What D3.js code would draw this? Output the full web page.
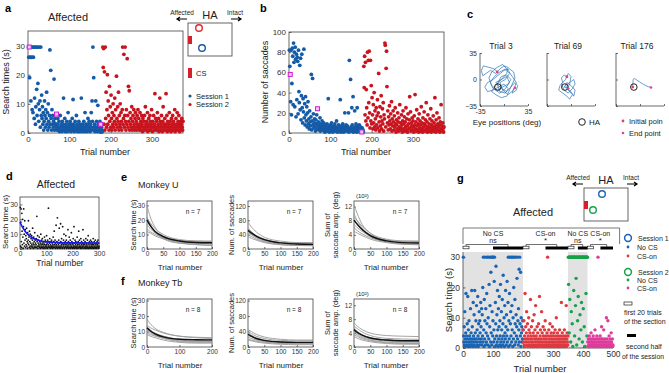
<!DOCTYPE html>
<html lang="en">
<head>
<meta charset="utf-8">
<title>Search time figure</title>
<script src="https://d3js.org/d3.v7.min.js"></script>
<style>
  body { margin: 0; background: #fff; }
  svg { display: block; font-family: "Liberation Sans", Arial, sans-serif; }
</style>
</head>
<body>
<svg id="fig" width="669" height="373"></svg>
<script>
// ---------- data ----------
// panel a : search time per trial, session 1 = trials 1-180, session 2 = trials 181-375
const aSession1Times = [
  29.5,26,29.5,19,26,29.5,11,29.5,26,8, 29.5,7,26,29.5,5,12,29.5,3,9,29.5,
  15,6,29.5,17,10,4,29.5,8,11,2, 29.5,6,13,5,9,3,7,1,4,11,
  6,2,8,5,14,3,7,1,10,4, 2,6,28.5,3,21.5,5,1,8,3,6,
  2,4,18.5,1,5,3,3,2,6.5,1, 3,5,2,1,4,0.5,2,6,1,3,
  2,0.5,4,1,3,12,2,1,5,0.5, 2,3,1,4,0.5,2,7,1,3,2,
  1,4,2,0.5,3,1,5,2,11.5,1, 3,0.5,2,4,1,2,6,1,3,0.5,
  2,1,4,2,0.5,3,1,2,12,1, 0.5,3,2,1,4,2,0.5,7,1,3,
  2,1,0.5,3,5,1,2,4,1,0.5, 3,2,7,1,11,4,29.5,2,19,1,
  3,0.5,2,11,1,4,2,0.5,9.5,3, 1,2,0.5,4,1,3,0.3,2,1,0.5
];
const aSession2Times = [
  29.5,22.5,29,3,21,1,29.5,5,14,2, 8,20,3,11,6,1,16,4,9,2,
  13,5,1,7,3,10,2,6,4,12, 1,8,3,19.5,5,2,9,4,14,1,
  6,3,10,2,7,4,1,8,29.5,3, 5,27,2,6,29.5,4,1,8,3,25.5,
  6,2,16,4,14.5,1,7,3,5,2, 9,1,4,6,2,8,3,1,5,7,
  2,4,1,6,3,8,2,5,1,3, 7,2,4,1,6,3,0.5,5,2,4,
  1,6,2,9,3,1,4,2,7,0.5, 3,5,1,2,6,4,1,3,8,2,
  0.5,4,2,6,1,3,13.5,2,5,1, 4,2,7,1,3,5,0.5,2,12,4,
  1,3,6,2,0.5,4,9,1,3,2, 5,1,3,13.5,2,6,0.5,4,1,3,
  2,7,1,4,2,0.5,5,3,1,6, 2,4,1,3,8,0.5,2,5,1,3,
  7,2,4,1,6,3,0.5,2,4,1, 3,5,2,1,4
];
// panel b : number of saccades per trial
const bSession1Saccades = [
  82,66,58,31,82,18,49,84,76,28, 89,70,80,26,85,73,16,78,33,75,
  71,19,82,41,30,67,23,74,13,37, 78,25,10,34,21,83,15,29,8,36,
  18,12,26,6,20,31,9,14,4,22, 11,7,16,58,3,12,54,8,19,5,
  10,14,6,2,13,9,18,4,24,7, 11,3,8,5,15,2,9,6,4,12,
  3,7,5,10,2,6,1,8,4,3, 6,9,2,5,34,3,7,1,4,8,
  5,2,10,4,6,1,3,7,2,5, 9,3,6,2,12,4,1,5,3,8,
  2,6,4,33,1,3,7,5,2,9, 4,1,6,3,20,5,2,8,4,3,
  7,2,5,20,1,72,4,3,53,6, 2,25,8,4,36,1,5,3,22,6,
  2,9,4,1,25,7,3,5,2,8, 4,1,6,3,2,1,5,2,3,1
];
const bSession2Saccades = [
  66,45,76,18,70,12,43,25,8,80, 15,72,30,81,20,5,72,12,47,9,
  35,18,4,28,10,40,6,22,14,3, 25,8,17,33,5,20,59,11,2,26,
  7,16,37,4,12,24,9,30,2,18, 14,89,87,6,64,81,46,10,22,3,
  16,8,27,12,4,19,9,31,2,14, 7,22,11,3,17,6,25,9,1,13,
  8,4,20,11,2,15,6,28,3,10, 5,18,8,1,12,22,4,9,16,2,
  11,6,25,3,14,7,1,19,9,4, 13,36,5,21,2,10,7,15,3,12,
  6,1,17,8,38,4,11,2,23,7, 3,14,9,1,19,5,12,2,8,26,
  4,10,1,15,6,3,21,9,2,13, 7,30,4,11,1,18,6,3,9,2,
  14,5,24,1,8,12,3,6,17,2, 10,4,35,7,1,13,5,20,3,9,
  6,2,15,8,1,11,4,28,3,7, 2,10,5,1,6
];
const session1Last = 180;
const exampleTrials = [3, 69, 176];

// panel c : eye trajectories (deg)
const trial3Path = [[-10,10],[-14,14],[-22,16],[-30,18],[-33,12],[-31,5],[-26,8],[-20,12],[-12,8],[-6,14],
  [0,18],[6,16],[4,8],[-2,2],[-8,-4],[-14,-10],[-18,-16],[-12,-20],[-4,-24],[4,-22],[8,-14],[12,-6],
  [16,2],[14,10],[8,14],[0,12],[-8,6],[-16,0],[-24,-4],[-28,-10],[-24,-16],[-16,-14],[-8,-10],[0,-6],
  [6,-12],[2,-18],[-6,-16],[-10,-6],[-4,4],[4,6],[10,0],[6,-6],[-2,-10],[-10,-14],[-18,-8],[-22,2],
  [-18,10],[-10,16],[-2,20],[6,12],[12,4],[18,-4],[14,-14],[6,-20],[-2,-14],[-6,-4],[2,0],[8,8],
  [2,14],[-6,10],[-14,4],[-20,-4],[-16,-12],[-6,-18],[2,-12],[8,-4],[4,4],[-4,0],[-12,-4],[-6,-10],
  [4,-16],[10,-10],[16,-4],[20,-8],[18,-14],[12,-18],[14,-12],[16,-11]];
const trial69Path = [[-6,3.6],[-10,6],[-14,2],[-12,-4],[-16,-8],[-18,-14],[-12,-18],[-6,-22],[-2,-26],
  [2,-20],[-4,-14],[-8,-8],[-2,-4],[4,0],[6,-6],[2,-12],[-4,-18],[-10,-14],[-14,-6],[-8,0],[-4,8],
  [0,4],[-2,-6],[-6,-12],[0,-16],[4,-22],[6,-14],[0,-8],[-6,-4],[-10,-10],[-4,-12]];
const trial176Path = [[-10.6,-10],[-10.3,-3],[-9.8,2.5],[-5,-0.5],[0,-3.5],[5,-6.5],[10,-9],[16,-10.5]];
const haPosition = [-9, -10];

// panel d : search time, affected side, and fitted curve
const dTimes = [
  28,2,18,27,5,1,24,12,3,20,8,0.5,15,27,4,10,2,19,6,13,1,9,3,7,14,2,5,0.5,11,4,
  6,19,3,8,1,12,5,2,10,0.5,4,7,2,9,3,1,6,14,2,4,0.5,8,3,5,1,11,2,6,4,1,
  3,7,1,22,5,2,9,0.5,4,6,2,3,8,1,5,2,4,0.5,10,3,1,6,2,4,7,1,3,0.5,5,2,
  4,1,8,3,0.5,6,2,5,1,3,9,2,4,0.5,6,1,3,27.5,2,5,1,4,7,2,0.5,3,5,1,2,6,
  1,4,2,0.5,3,8,1,5,2,12,3,1,6,4,0.5,2,16,3,1,5,2,21,0.5,4,1,3,6,2,14,1,
  4,0.5,2,17,5,1,3,7,2,0.5,4,15,1,3,6,2,10,0.5,4,1,3,5,2,9,1,6,0.5,3,2,4,
  1,13,2,5,0.5,3,8,1,4,2,6,0.5,3,1,11,2,5,1,4,0.5,3,7,2,1,15,4,0.5,2,6,1,
  3,5,2,0.5,4,1,8,2,3,0.5,5,1,12,3,2,6,1,4,0.5,2,7,1,3,5,0.5,2,4,1,13,3,
  2,6,0.5,4,1,3,5,2,0.5,7,1,4,2,3,0.5,6,1,2,9,4,0.5,3,1,5,2,0.5,4,6,1,3,
  2,5,0.5,3,1,4,2,7,0.5,3,1,5,2,4,0.5,6,1,3,2,0.5,4,1,5,3,2,6,0.5,1,4,2
];
const dFitTrials = [0, 10, 20, 30, 50, 75, 100, 150, 200, 300];
const dFitValues = [18, 14.5, 11.8, 9.8, 7.2, 5.6, 4.8, 4.3, 4.1, 4.0];

// panels e, f : fitted learning curves, values at these trials
const curveTrials = [0, 10, 25, 50, 100, 150, 200];
const eSearchCurves = [[30,22,15,9,6,5,5],[21,18,14,10,6.5,5.5,5],[19,16,12,8,5,4,3.5],[17,14,11,8,6,5.5,5.5],
  [14,12,10,7.5,4.5,3,2.5],[12,11,9,7,4,3,2.5],[22,17,12,7,4,3.5,3.5]];
const eSearchMean = [20,16,12,8.5,5.5,4.5,4.3];
const eSaccadeCurves = [[75,62,48,33,22,18,17],[55,48,38,28,18,15,14],[50,42,32,22,14,12,12],[45,40,33,25,18,16,16],
  [40,35,28,20,12,10,9],[35,30,25,18,12,10,10],[60,48,36,25,18,17,17]];
const eSaccadeMean = [52,45,36,26,17,14,13];
const eAmpCurves = [[12.5,10,7,4.5,2.5,2,2],[9,8,6.5,4.5,2.8,2.3,2.2],[8,7,5.5,4,2.5,2,1.8],[7,6,5,3.5,2,1.5,1.3],
  [6,5.2,4.3,3.2,2,1.5,1.4],[5,4.5,3.8,2.8,1.8,1.3,1.2],[10,8,6,4,2.5,2.2,2.2]];
const eAmpMean = [8.2,7,5.5,3.8,2.3,1.8,1.7];
const fSearchCurves = [[18,15,12,9.5,7,6.3,6],[14,12.5,11,9,7,6,5.5],[13,11,9,7,5,4.5,4.5],[11,10,8.5,7,5,4.5,4],
  [10,9,7.5,6,4,3.5,3.5],[9,8,7,5.5,3.5,3,3],[8,7,6,4.5,3,2.5,2.5],[12,10,8,6,4.5,4,4]];
const fSearchMean = [12.5,10.5,8.5,6.5,5,4.7,4.6];
const fSaccadeCurves = [[45,40,33,26,20,18,18],[40,35,28,22,17,16,16],[35,30,24,18,13,12,12],[30,26,21,16,12,11,11],
  [25,22,18,14,10,9,9],[20,18,15,12,9,8,8],[18,16,13,10,7,6,6],[38,30,22,16,12,11,11]];
const fSaccadeMean = [33,28,22,17,13,12,12];
const fAmpCurves = [[7,6,5,4,3.3,3.1,3],[6,5.3,4.3,3.3,2.5,2.3,2.2],[5,4.3,3.5,2.7,2,1.8,1.8],[4.5,3.8,3,2.3,1.7,1.5,1.5],
  [4,3.4,2.7,2,1.4,1.2,1.2],[3.5,3,2.4,1.8,1.2,1,1],[3,2.5,2,1.5,1,0.8,0.8],[5.5,4.5,3.5,2.6,2,1.8,1.8]];
const fAmpMean = [5,4.2,3.4,2.6,2,1.8,1.8];

// panel g : search time per trial in four sections
const gS1NoCS = [
  30,4,2,7,1,12,3,0.5,5,18, 2,4,1,8,3,17,0.5,6,2,9,
  1,4,3,0.5,13,2,5,1,19,3, 7,2,0.5,15,4,1,11,3,19,2,
  5,0.5,9,3,14,1,6,2,17,4, 0.5,8,3,12,1,9,5,2,15,7,
  3,13,1,11,4,20,2,30,6,0.5, 16,3,9,30,1,13,5,2,18,8,
  30,4,1,10,30,3,21,0.5,7,14, 30,2,25,5,30,1,12,30,4,9,
  30,2,6,22,30,3,0.5,15,8,27, 1,4,11,2,19,6,0.5,13,3,7,
  17,1,9,4,21,2,0.5,12,6,3, 16,1,8,24,4,2,10,0.5,14,5,
  3,19,7,1,11,4,22,2,6,15, 30,0.5,9,3,18,30,1,8,12,4,
  30,2,14,6,30,0.5,10,3,20,30, 5,1,16,8,30,2,11,4,7,23,
  30,3,9,1,13,6,26,2,30,8, 4,25,0.5,10,5,7,2,3,9,6
];
const gS1CSon = [
  6,2,9,1,4,0.5,18,3,7,2, 5,12,1,3,8,0.5,4,2,10,6,
  1,3,5,0.5,16,2,4,7,1,3, 0.5,9,2,5,1,4,11,0.5,3,6,
  2,14,1,4,0.5,3,7,2,5,1, 0.5,8,3,2,17,1,4,6,0.5,2,
  3,12,1,5,0.5,2,7,4,1,3, 0.5,6,2,9,1,4,0.5,3,2,5,
  1,30,0.5,4,2,6,1,3,0.5,8, 2,4,1,5,0.5,3,2,7,1,4,
  0.5,2,5,1,3,0.5,6,2,4,1, 10,0.5,3,2,5,1,0.5,4,2,3,
  1,6,0.5,2,4,1,3,15,0.5,2, 5,1,3,0.5,4,2,1,6,0.5,3,
  2,4,1,14,0.5,3,5,2,1,4
];
const gS2NoCS = [
  30,21,30,5,30,16,30,30,2,30, 12,30,30,8,30,0.5,30,30,19,30,
  30,4,30,30,14,30,23,30,1,30, 30,9,30,17,30,30,3,30,30,11,
  30,30,6,30,15,30,30,2,30,30, 13,30,30,7,30,30,0.5,30,30,18, 30,30,4,30,30
];
const gS2CSon = [
  2,0.5,3,1,2,4,0.5,1,3,2, 0.5,5,1,2,3,0.5,1,2,4,1,
  3,0.5,2,1,6,2,0.5,3,1,2, 4,0.5,1,3,30,2,0.5,1,3,2,
  1,4,0.5,2,1,3,7,0.5,2,1, 3,0.5,2,6,1,0.5,2,3,1,0.5,
  2,1,10,0.5,3,1,2,9,0.5,1, 2,4,0.5,1,3,2,0.5,1,5,2, 0.5,1,3,0.5,1
];
const gSectionNames = ["No CS", "CS-on", "No CS", "CS-on"];
const gSectionBounds = [0, 200, 350, 415, 500];
const gSectionStats = ["ns", "*", "ns", "*"];
const gSecondHalfStart = [100, 275, 383, 458];
const gFirstTrials = 20;

// ---------- drawing ----------
const FONT = '"Liberation Sans", Arial, sans-serif';
const BLUE = "#145aa6", RED = "#c8141e";
const G_BLUE = "#1a64b4", G_RED = "#de3a40", G_GREEN = "#16a24a", G_PINK = "#de3c9c";
const svg = d3.select("#fig");

function label(x, y, s, o = {}) {
  return svg.append("text").attr("x", x).attr("y", y).text(s)
    .attr("font-family", FONT)
    .attr("font-size", o.size || 8)
    .attr("font-weight", o.bold ? "bold" : null)
    .attr("text-anchor", o.anchor || "start")
    .attr("dominant-baseline", "central")
    .attr("fill", o.fill || "#222")
    .attr("transform", o.rotate ? `rotate(-90,${x},${y})` : null);
}

function axes(x, y, o) {
  const g = svg.append("g");
  const [x0, x1] = x.range(), [y0, y1] = y.range();
  const t = o.tick == null ? 2.5 : o.tick;
  g.append("g").attr("transform", `translate(0,${y0})`)
    .call(d3.axisBottom(x).tickValues(o.xt).tickSizeInner(-t).tickSizeOuter(0).tickPadding(o.padx || 3)
      .tickFormat(o.xf || d3.format("d")));
  g.append("g").attr("transform", `translate(${x0},0)`)
    .call(d3.axisLeft(y).tickValues(o.yt).tickSizeInner(-t).tickSizeOuter(0).tickPadding(o.pady || 3));
  g.selectAll(".domain").remove();
  g.selectAll(".tick line").attr("stroke", "#333").attr("stroke-width", 0.7);
  g.selectAll(".tick text").attr("font-size", o.fs || 8).attr("font-family", FONT).attr("fill", "#333");
  if (o.box) {
    g.append("rect").attr("x", x0).attr("y", y1).attr("width", x1 - x0).attr("height", y0 - y1)
      .attr("fill", "none").attr("stroke", "#444").attr("stroke-width", 0.8);
  } else {
    g.append("path").attr("d", `M${x0},${y1}V${y0}H${x1}`)
      .attr("fill", "none").attr("stroke", "#444").attr("stroke-width", 0.8);
  }
  return g;
}

function dots(values, start, x, y, color, r) {
  svg.append("g").selectAll("circle").data(values).join("circle")
    .attr("cx", (d, i) => x(start + i)).attr("cy", d => y(d))
    .attr("r", r).attr("fill", color);
}

// panel letters
[["a", 5, 8], ["b", 260, 8], ["c", 467, 14], ["d", 6, 176], ["e", 121, 177], ["f", 121, 281], ["g", 457, 178]]
  .forEach(([s, x, y]) => label(x, y, s, { size: 11, bold: true, fill: "#000" }));

// ----- panel a -----
const ax = d3.scaleLinear().domain([0, 375]).range([28, 183]);
const ay = d3.scaleLinear().domain([0, 35]).range([133, 31]);
axes(ax, ay, { xt: [0, 100, 200, 300], yt: [0, 10, 20, 30], box: true, fs: 8 });
dots(aSession1Times, 1, ax, ay, BLUE, 1.9);
dots(aSession2Times, session1Last + 1, ax, ay, RED, 1.9);
svg.append("g").selectAll("rect").data(exampleTrials).join("rect")
  .attr("x", d => ax(d) - 2).attr("y", d => ay(aSession1Times[d - 1]) - 2)
  .attr("width", 4).attr("height", 4).attr("fill", "#f3c8f3").attr("stroke", "#d41cd4").attr("stroke-width", 1);
label(68, 17, "Affected", { size: 11, anchor: "middle" });
label(6, 82, "Search times (s)", { size: 9, anchor: "middle", rotate: true });
label(105, 152, "Trial number", { size: 9, anchor: "middle" });

// hemifield inset
function hemifield(cx, cy, circles, rectY) {
  label(cx - 28, cy - 11, "Affected", { size: 6.5, anchor: "middle" });
  label(cx, cy - 8, "HA", { size: 11, anchor: "middle" });
  label(cx + 25, cy - 11, "Intact", { size: 6.5, anchor: "middle" });
  svg.append("path").attr("d", `M${cx - 23},${cy - 4}H${cx - 33}M${cx - 30},${cy - 6}L${cx - 33},${cy - 4}L${cx - 30},${cy - 2}`)
    .attr("stroke", "#000").attr("stroke-width", 1.2).attr("fill", "none");
  svg.append("path").attr("d", `M${cx + 21},${cy - 4}H${cx + 31}M${cx + 28},${cy - 6}L${cx + 31},${cy - 4}L${cx + 28},${cy - 2}`)
    .attr("stroke", "#000").attr("stroke-width", 1.2).attr("fill", "none");
  svg.append("rect").attr("x", cx - 22).attr("y", cy).attr("width", 44).attr("height", 33)
    .attr("fill", "none").attr("stroke", "#555").attr("stroke-width", 0.9);
  svg.append("rect").attr("x", cx - 22).attr("y", cy + rectY).attr("width", 4).attr("height", 8).attr("fill", "#d8202a");
  circles.forEach(([dx, dy, c]) => svg.append("circle").attr("cx", cx + dx).attr("cy", cy + dy).attr("r", 3.3)
    .attr("fill", "none").attr("stroke", c).attr("stroke-width", 1.4));
}
hemifield(210, 23, [[-11, 5, "#e0262e"], [-8, 25, BLUE]], 13);
svg.append("rect").attr("x", 188).attr("y", 68).attr("width", 4).attr("height", 10).attr("fill", "#d8202a");
label(196, 73, "CS", { size: 7.5 });
svg.append("circle").attr("cx", 190).attr("cy", 96).attr("r", 1.6).attr("fill", BLUE);
label(196, 96, "Session 1", { size: 7.5 });
svg.append("circle").attr("cx", 190).attr("cy", 104.5).attr("r", 1.6).attr("fill", RED);
label(196, 104.5, "Session 2", { size: 7.5 });

// ----- panel b -----
const bx = d3.scaleLinear().domain([0, 375]).range([289, 444]);
const by = d3.scaleLinear().domain([0, 100]).range([133, 32]);
axes(bx, by, { xt: [0, 100, 200, 300], yt: [0, 20, 40, 60, 80, 100], box: true, fs: 8 });
dots(bSession1Saccades, 1, bx, by, BLUE, 1.9);
dots(bSession2Saccades, session1Last + 1, bx, by, RED, 1.9);
svg.append("g").selectAll("rect").data(exampleTrials).join("rect")
  .attr("x", d => bx(d) - 2).attr("y", d => by(bSession1Saccades[d - 1]) - 2)
  .attr("width", 4).attr("height", 4).attr("fill", "#f3c8f3").attr("stroke", "#d41cd4").attr("stroke-width", 1);
label(265, 82, "Number of saccades", { size: 9, anchor: "middle", rotate: true });
label(366, 152, "Trial number", { size: 9, anchor: "middle" });

// ----- panel c -----
const cPaths = [trial3Path, trial69Path, trial176Path];
const cLeft = [480, 547, 616];
cPaths.forEach((path, k) => {
  const x = d3.scaleLinear().domain([-35, 35]).range([cLeft[k], cLeft[k] + 48]);
  const y = d3.scaleLinear().domain([-35, 35]).range([106, 53]);
  const g = axes(x, y, { xt: [-35, 0, 35], yt: [-35, 0, 35], fs: 7, tick: 2, xf: d => d === 0 ? "" : d });
  if (k > 0) g.selectAll(".tick text").remove();
  label(x(0) - 3, 46, "Trial " + exampleTrials[k], { size: 8.5, anchor: "middle" });
  svg.append("path").datum(path)
    .attr("d", d3.line().x(d => x(d[0])).y(d => y(d[1])).curve(k === 2 ? d3.curveBasis : d3.curveLinear))
    .attr("fill", "none").attr("stroke", "#2b74b6").attr("stroke-width", 0.7);
  svg.append("circle").attr("cx", x(haPosition[0])).attr("cy", y(haPosition[1])).attr("r", 3.3)
    .attr("fill", "none").attr("stroke", "#222").attr("stroke-width", 1);
  const first = path[0], last = path[path.length - 1];
  svg.append("circle").attr("cx", x(first[0])).attr("cy", y(first[1])).attr("r", 1.4).attr("fill", "#e0406a");
  svg.append("circle").attr("cx", x(last[0])).attr("cy", y(last[1])).attr("r", 1.3).attr("fill", "#e040a0");
});
label(507, 122, "Eye positions  (deg)", { size: 8, anchor: "middle" });
svg.append("circle").attr("cx", 582).attr("cy", 122).attr("r", 3.3).attr("fill", "none").attr("stroke", "#222").attr("stroke-width", 1);
label(589, 122, "HA", { size: 8 });
svg.append("circle").attr("cx", 623).attr("cy", 121).attr("r", 1.4).attr("fill", "#e0406a");
label(629, 121, "Initial poin", { size: 7.5 });
svg.append("circle").attr("cx", 623).attr("cy", 133).attr("r", 1.3).attr("fill", "#e040a0");
label(629, 133, "End point", { size: 7.5 });

// ----- panel d -----
const dx = d3.scaleLinear().domain([0, 300]).range([20, 99]);
const dy = d3.scaleLinear().domain([0, 35]).range([249, 197]);
axes(dx, dy, { xt: [0, 100, 200, 300], yt: [0, 10, 20, 30], box: true, fs: 7, padx: 2, pady: 2 });
dots(dTimes, 1, dx, dy, "#111", 0.9);
svg.append("path").datum(dFitTrials.map((t, i) => [t, dFitValues[i]]))
  .attr("d", d3.line().x(d => dx(d[0])).y(d => dy(d[1])).curve(d3.curveMonotoneX))
  .attr("fill", "none").attr("stroke", "#1414f0").attr("stroke-width", 1.6);
label(56, 184, "Affected", { size: 10.5, anchor: "middle" });
label(5.5, 222, "Search time (s)", { size: 8, anchor: "middle", rotate: true });
label(60, 263, "Trial number", { size: 8.5, anchor: "middle" });

// ----- panels e, f -----
function curvePanel(left, top, ymax, yt, xt, curves, mean, n) {
  const x = d3.scaleLinear().domain([0, 200]).range([left, left + 65]);
  const y = d3.scaleLinear().domain([0, ymax]).range([top + 48, top]);
  axes(x, y, { xt: xt, yt: yt, box: true, fs: 6.5, tick: 2, padx: 2, pady: 2 });
  const line = d3.line().x((d, i) => x(curveTrials[i])).y(d => y(d)).curve(d3.curveMonotoneX);
  svg.append("g").selectAll("path").data(curves).join("path").attr("d", line)
    .attr("fill", "none").attr("stroke", "#9a9a9a").attr("stroke-width", 0.9);
  svg.append("path").datum(mean).attr("d", line)
    .attr("fill", "none").attr("stroke", "#111").attr("stroke-width", 1.4);
  label(left + 46, top + 10, "n = " + n, { size: 6.5, anchor: "middle" });
}
const ticks50 = [0, 50, 100, 150, 200];
curvePanel(147, 201, 33, [0, 10, 20, 30], ticks50, eSearchCurves, eSearchMean, 7);
curvePanel(248, 201, 134, [0, 40, 80, 120], ticks50, eSaccadeCurves, eSaccadeMean, 7);
curvePanel(354, 201, 13.6, [0, 4, 8, 12], ticks50, eAmpCurves, eAmpMean, 7);
curvePanel(147, 299, 31, [0, 10, 20, 30], [0, 100, 200], fSearchCurves, fSearchMean, 8);
curvePanel(248, 299, 124, [0, 40, 80, 120], ticks50, fSaccadeCurves, fSaccadeMean, 8);
curvePanel(354, 299, 13.8, [0, 4, 8, 12], ticks50, fAmpCurves, fAmpMean, 8);
[[185, "Monkey U"], [283, "Monkey Tb"]].forEach(([yy, s], k) => {
  const top = k === 0 ? 201 : 299;
  label(138, yy, s, { size: 9 });
  label(133, top + 24, "Search time (s)", { size: 7.5, anchor: "middle", rotate: true });
  label(231, top + 24, "Num. of saccades", { size: 7.5, anchor: "middle", rotate: true });
  label(327, top + 24, "Sum of", { size: 7.5, anchor: "middle", rotate: true });
  label(335, top + 24, "saccade amp. (deg)", { size: 7.5, anchor: "middle", rotate: true });
  label(356, top - 5, "(10²)", { size: 6 });
  [180, 281, 386].forEach(cx => label(cx, top + 66, "Trial number", { size: 8, anchor: "middle" }));
});

// ----- panel g -----
const gx = d3.scaleLinear().domain([0, 500]).range([463, 613]);
const gy = d3.scaleLinear().domain([0, 31.7]).range([348, 252]);
[[0, 1], [2, 3]].forEach(([a, b]) => {
  svg.append("rect").attr("x", gx(gSectionBounds[a])).attr("y", gy(31.7))
    .attr("width", gx(gSectionBounds[b]) - gx(gSectionBounds[a])).attr("height", gy(0) - gy(31.7))
    .attr("fill", "#e2e2e2");
});
axes(gx, gy, { xt: [0, 100, 200, 300, 400, 500], yt: [0, 10, 20, 30], fs: 8.5 });
dots(gS1NoCS, 1, gx, gy, G_BLUE, 1.7);
dots(gS1CSon, 201, gx, gy, G_RED, 1.7);
dots(gS2NoCS, 351, gx, gy, G_GREEN, 1.7);
dots(gS2CSon, 416, gx, gy, G_PINK, 1.7);
label(448, 300, "Search time (s)", { size: 9.5, anchor: "middle", rotate: true });
label(540, 368, "Trial number", { size: 9.5, anchor: "middle" });
label(533, 212, "Affected", { size: 11, anchor: "middle" });
hemifield(606, 188, [[-4, 6, G_BLUE], [-13, 22, G_GREEN]], 13);

// section frame and comparisons
svg.append("path").attr("d", `M${gx(0)},244V228H${gx(522)}V244`)
  .attr("fill", "none").attr("stroke", "#555").attr("stroke-width", 0.8);
gSectionNames.forEach((name, k) => {
  const s = gSectionBounds[k], e = gSectionBounds[k + 1];
  label(gx((s + e) / 2), 233.5, name, { size: 7, anchor: "middle" });
  label(gx((s + e) / 2), 240.5, gSectionStats[k], { size: gSectionStats[k] === "*" ? 8 : 7, anchor: "middle" });
  const c1 = gx(s + gFirstTrials / 2), c2 = gx((gSecondHalfStart[k] + e) / 2);
  svg.append("path").attr("d", `M${c1},247V244.5H${c2}V247`)
    .attr("fill", "none").attr("stroke", "#333").attr("stroke-width", 0.7);
  svg.append("rect").attr("x", gx(s)).attr("y", 246.2).attr("width", gx(s + gFirstTrials) - gx(s)).attr("height", 2.6)
    .attr("fill", "#fff").attr("stroke", "#222").attr("stroke-width", 0.7);
  svg.append("rect").attr("x", gx(gSecondHalfStart[k])).attr("y", 246.5)
    .attr("width", gx(e) - gx(gSecondHalfStart[k])).attr("height", 3).attr("fill", "#000");
});

// legend g
svg.append("circle").attr("cx", 628).attr("cy", 238).attr("r", 3.4).attr("fill", "none").attr("stroke", G_BLUE).attr("stroke-width", 1.5);
label(638, 238, "Session 1", { size: 7 });
svg.append("circle").attr("cx", 628).attr("cy", 247).attr("r", 1.4).attr("fill", G_BLUE);
label(637, 247, "No CS", { size: 7 });
svg.append("circle").attr("cx", 628).attr("cy", 256).attr("r", 1.4).attr("fill", G_RED);
label(637, 256, "CS-on", { size: 7 });
svg.append("circle").attr("cx", 628).attr("cy", 272).attr("r", 3.4).attr("fill", "none").attr("stroke", G_GREEN).attr("stroke-width", 1.5);
label(638, 272, "Session 2", { size: 7 });
svg.append("circle").attr("cx", 628).attr("cy", 280).attr("r", 1.4).attr("fill", G_GREEN);
label(637, 280, "No CS", { size: 7 });
svg.append("circle").attr("cx", 628).attr("cy", 288).attr("r", 1.4).attr("fill", G_PINK);
label(637, 288, "CS-on", { size: 7 });
svg.append("rect").attr("x", 624).attr("y", 302).attr("width", 8).attr("height", 3)
  .attr("fill", "#fff").attr("stroke", "#222").attr("stroke-width", 0.7);
label(624, 312, "first 20 trials", { size: 7 });
label(624, 321, "of the section", { size: 7 });
svg.append("rect").attr("x", 627).attr("y", 334).attr("width", 9).attr("height", 3).attr("fill", "#000");
label(626, 346, "second half", { size: 7 });
label(622, 356, "of the session", { size: 6.8 });
</script>
</body>
</html>
